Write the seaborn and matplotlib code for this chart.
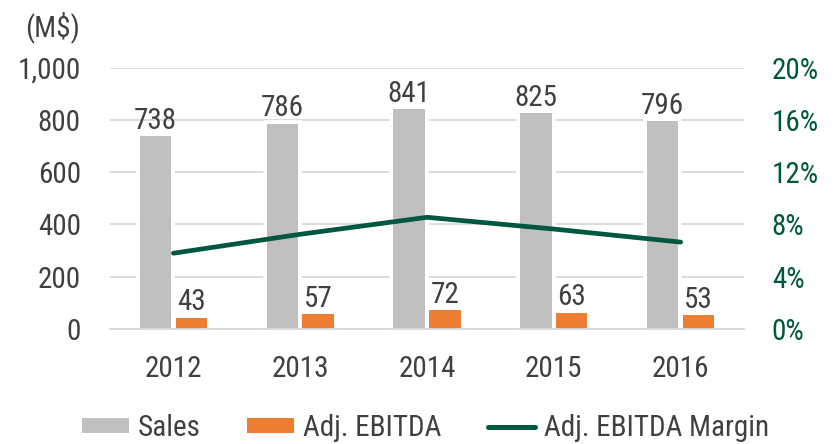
import matplotlib
matplotlib.use("Agg")
import matplotlib.pyplot as plt
import matplotlib.patheffects as pe
from matplotlib.lines import Line2D
from matplotlib.patches import Patch
from matplotlib.ticker import FuncFormatter, PercentFormatter, FixedLocator
import seaborn as sns
import pandas as pd

years = ["2012", "2013", "2014", "2015", "2016"]
sales = [738, 786, 841, 825, 796]
ebitda = [43, 57, 72, 63, 53]
margin = [5.8, 7.25, 8.55, 7.65, 6.65]

GRAY = "#BFBFBF"
ORANGE = "#ED7D31"
GREEN = "#00573F"
TXT = "#404040"

sns.set_theme(style="white")
plt.rcParams["font.family"] = ["Roboto Condensed", "Liberation Sans", "DejaVu Sans"]

df = pd.DataFrame({
    "year": years * 2,
    "value": sales + ebitda,
    "series": ["Sales"] * len(years) + ["Adj. EBITDA"] * len(years),
})

fig = plt.figure(figsize=(8.4, 4.44), dpi=100)
ax = fig.add_axes([110 / 840, 1 - 329 / 444, (744 - 110) / 840, (329 - 67.7) / 444])

sns.barplot(data=df, x="year", y="value", hue="series", order=years,
            hue_order=["Sales", "Adj. EBITDA"], palette=[GRAY, ORANGE],
            width=0.564, gap=0.124, linewidth=0, saturation=1,
            legend=False, ax=ax, zorder=2)

for c in ax.containers:
    for p in c:
        p.set_path_effects([pe.Stroke(linewidth=5.5, foreground="white"), pe.Normal()])
    ax.bar_label(c, fmt="%d", padding=1, fontsize=21, color=TXT)

ax.set_ylim(0, 1000)
ax.set_xlim(-0.5, len(years) - 0.5)
ax.yaxis.set_major_locator(FixedLocator([0, 200, 400, 600, 800, 1000]))
ax.yaxis.set_major_formatter(FuncFormatter(lambda v, p: f"{int(v):,}"))
ax.grid(axis="y", color="#D9D9D9", linewidth=1.3, zorder=0)
ax.set_axisbelow(True)
for s in ["left", "right", "top"]:
    ax.spines[s].set_visible(False)
ax.spines["bottom"].set_color("#D9D9D9")
ax.spines["bottom"].set_linewidth(1.3)
ax.tick_params(axis="y", length=0, pad=21, labelsize=21, labelcolor=TXT)
ax.tick_params(axis="x", which="major", length=0, pad=19, labelsize=21, labelcolor=TXT)
ax.set_xticks([i - 0.5 for i in range(len(years) + 1)], minor=True)
ax.tick_params(axis="x", which="minor", length=6, width=1.3, color="#D9D9D9", direction="out")
ax.set_xlabel("")
ax.set_ylabel("")

ax2 = ax.twinx()
sns.lineplot(x=list(range(len(years))), y=margin, color=GREEN, linewidth=3.4,
             ax=ax2, zorder=3, solid_capstyle="round")
ax2.set_ylim(0, 20)
ax2.yaxis.set_major_locator(FixedLocator([0, 4, 8, 12, 16, 20]))
ax2.yaxis.set_major_formatter(PercentFormatter(decimals=0))
ax2.tick_params(axis="y", length=0, pad=20, labelsize=21, labelcolor=GREEN)
for s in ["left", "right", "top", "bottom"]:
    ax2.spines[s].set_visible(False)
ax2.grid(False)
ax2.set_ylabel("")

fig.text(80 / 840, 1 - 27 / 444, "(M$)", ha="right", va="center", fontsize=21, color=TXT)

handles = [Patch(facecolor=GRAY, edgecolor="none"),
           Patch(facecolor=ORANGE, edgecolor="none"),
           Line2D([0], [0], color=GREEN, linewidth=3.6, solid_capstyle="round")]
fig.legend(handles, ["Sales", "Adj. EBITDA", "Adj. EBITDA Margin"], loc="center left",
           bbox_to_anchor=(67 / 840, 1 - 428 / 444), ncol=3, frameon=False, borderpad=0,
           fontsize=21, labelcolor=TXT, handlelength=1.62, handleheight=0.41,
           handletextpad=0.3, columnspacing=1.6)

fig.savefig("out.png", dpi=100)
